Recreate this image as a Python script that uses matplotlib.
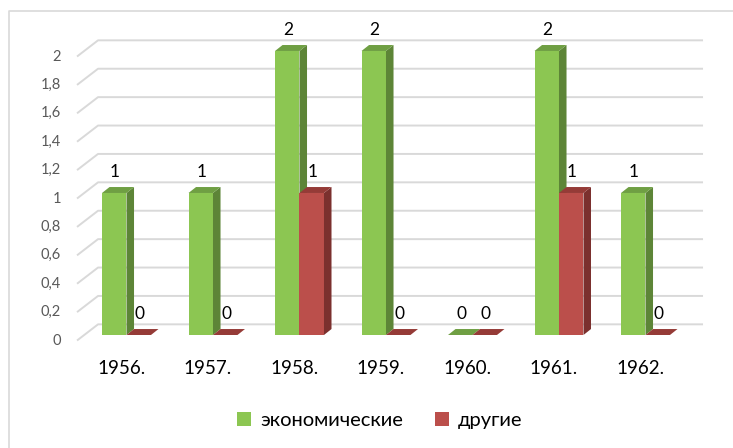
import numpy as np
import matplotlib
matplotlib.use('Agg')
import matplotlib.pyplot as plt
from matplotlib.patches import Polygon, Patch
from matplotlib.lines import Line2D

# data
years = ['1956.', '1957.', '1958.', '1959.', '1960.', '1961.', '1962.']
econ = [1, 1, 2, 2, 0, 2, 1]
other = [0, 0, 1, 0, 0, 1, 0]
series_names = ['экономические', 'другие']
yticks = [0, 0.2, 0.4, 0.6, 0.8, 1, 1.2, 1.4, 1.6, 1.8, 2]

# colours (front, side, top)
green = ('#8cc652', '#5d8537', '#6f9f43')
red = ('#bb4f4b', '#7b302e', '#953b37')

plt.rcParams['font.family'] = ['Lato', 'Open Sans', 'DejaVu Sans']

fig = plt.figure(figsize=(7.33, 4.48), dpi=100)
ax = fig.add_axes([0, 0, 1, 1])
ax.set_xlim(-1.4624, 7.0116)
ax.set_ylim(-0.7958, 2.359)
ax.axis('off')

# 3d look
bw = 0.283          # bar width
ddx, ddy = 0.087, 0.042   # bar depth
bx, by = 0.156, 0.075     # back wall offset
side_x0, side_x1, back_x1 = -0.572, -0.329, 6.665

# gridlines on side wall + back wall
for v in yticks:
    ax.plot([side_x0, side_x1, back_x1], [v + by - 0.114, v + by, v + by],
            color='#d9d9d9', lw=1.4, zorder=1, solid_capstyle='butt')
    lab = ('%g' % v).replace('.', ',')
    ax.text(-0.757, v + by - 0.114, lab, ha='right', va='center',
            fontsize=10.5, color='#595959')


def bar3d(x0, v, cols):
    x1 = x0 + bw
    front, side, top = cols
    if v > 0:
        ax.add_patch(Polygon([(x0, 0), (x1, 0), (x1, v), (x0, v)],
                             closed=True, fc=front, ec='none', zorder=3))
    ax.add_patch(Polygon([(x1, 0), (x1 + ddx, ddy), (x1 + ddx, v + ddy), (x1, v)],
                         closed=True, fc=side, ec='none', zorder=3))
    ax.add_patch(Polygon([(x0, v), (x1, v), (x1 + ddx, v + ddy), (x0 + ddx, v + ddy)],
                         closed=True, fc=top, ec='none', zorder=3))
    ax.text(x0 + bw / 2 + 0.01, v + 0.15, str(v), ha='center', va='center',
            fontsize=12.5, color='black', zorder=4)


for i in range(len(years)):
    bar3d(i - bw, econ[i], green)
    bar3d(i, other[i], red)
    ax.text(i - 0.06, -0.237, years[i], ha='center', va='center',
            fontsize=13.5, color='black')

handles = [Patch(fc=green[0], ec='none'), Patch(fc=red[0], ec='none')]
fig.legend(handles=handles, labels=series_names, loc='center',
           bbox_to_anchor=(0.518, 0.061), ncol=2, frameon=False,
           fontsize=14.5, handlelength=0.7, handleheight=0.7,
           handletextpad=0.45, columnspacing=1.6)

# chart area border (only top/left visible)
fig.add_artist(Line2D([8.5 / 733, 8.5 / 733, 1], [0, 1 - 11 / 448, 1 - 11 / 448],
                      transform=fig.transFigure, color='#d9d9d9', lw=1.2))

fig.savefig('out.png', dpi=100)
